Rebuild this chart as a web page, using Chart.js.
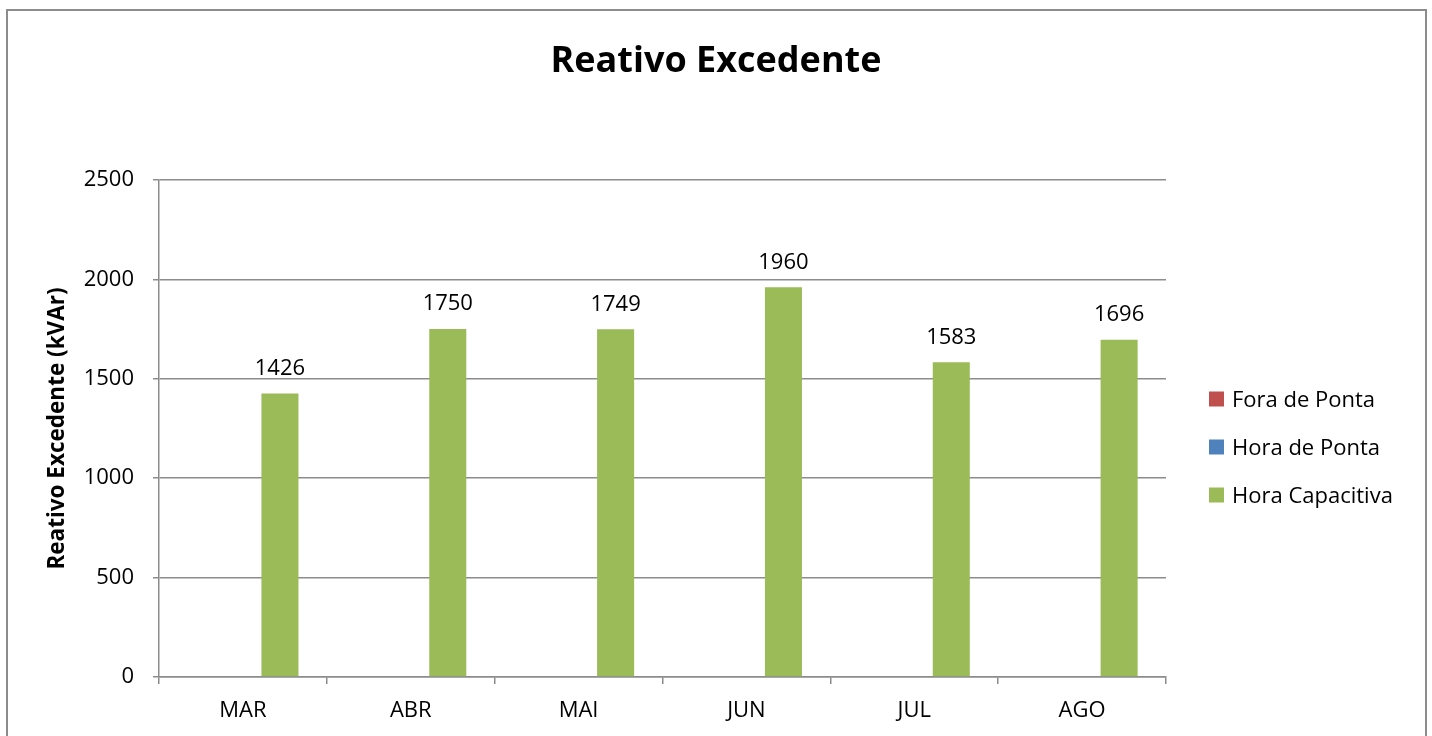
<!DOCTYPE html>
<html>
<head>
<meta charset="utf-8">
<script src="https://cdn.jsdelivr.net/npm/chart.js@4.4.1/dist/chart.umd.min.js"></script>
<style>
  html, body { margin: 0; padding: 0; background: #fff; overflow: hidden; }
  #wrap { width: 1432px; height: 736px; position: relative; }
</style>
</head>
<body>
<div id="wrap"><canvas id="reativoChart"></canvas></div>
<script>
const meses = ["MAR", "ABR", "MAI", "JUN", "JUL", "AGO"];
const foraDePonta = [null, null, null, null, null, null];
const horaDePonta = [null, null, null, null, null, null];
const horaCapacitiva = [1426, 1750, 1749, 1960, 1583, 1696];
const tituloGrafico = "Reativo Excedente";

const FONT = "'Open Sans', Lato, sans-serif";

// moldura cinza e título centralizado na imagem inteira
const framePlugin = {
  id: "frame",
  beforeDraw(chart) {
    const ctx = chart.ctx;
    ctx.save();
    ctx.strokeStyle = "#8c8c8c";
    ctx.lineWidth = 2;
    ctx.strokeRect(7, 10, 1419, 800);
    ctx.font = "bold 36px " + FONT;
    ctx.fillStyle = "#000";
    ctx.textAlign = "center";
    ctx.textBaseline = "middle";
    ctx.fillText(tituloGrafico, 716, 62);
    ctx.restore();
  },
};

// rótulos de valor acima das barras
const valueLabels = {
  id: "valueLabels",
  afterDatasetsDraw(chart) {
    const ctx = chart.ctx;
    ctx.save();
    ctx.font = "22px " + FONT;
    ctx.fillStyle = "#000";
    ctx.textAlign = "center";
    ctx.textBaseline = "middle";
    chart.data.datasets.forEach((ds, i) => {
      const meta = chart.getDatasetMeta(i);
      meta.data.forEach((bar, j) => {
        const v = ds.data[j];
        if (v === null || v === undefined) return;
        ctx.fillText(String(v), bar.x, bar.y - 25);
      });
    });
    ctx.restore();
  },
};

// legenda à direita
const sideLegend = {
  id: "sideLegend",
  afterDraw(chart) {
    const ctx = chart.ctx;
    ctx.save();
    ctx.font = "22px " + FONT;
    ctx.textBaseline = "middle";
    ctx.textAlign = "left";
    chart.data.datasets.forEach((ds, i) => {
      const cy = 399 + i * 48;
      ctx.fillStyle = ds.backgroundColor;
      ctx.fillRect(1209, cy - 7.5, 15, 15);
      ctx.fillStyle = "#000";
      ctx.fillText(ds.label, 1232, cy + 1.5);
    });
    ctx.restore();
  },
};

new Chart(document.getElementById("reativoChart"), {
  type: "bar",
  data: {
    labels: meses,
    datasets: [
      { label: "Fora de Ponta", data: foraDePonta, backgroundColor: "#C0504D" },
      { label: "Hora de Ponta", data: horaDePonta, backgroundColor: "#4F81BD" },
      { label: "Hora Capacitiva", data: horaCapacitiva, backgroundColor: "#9BBB59" },
    ],
  },
  options: {
    responsive: true,
    maintainAspectRatio: false,
    animation: false,
    layout: { padding: { left: 0, right: 266, top: 180, bottom: 0 } },
    datasets: {
      bar: { categoryPercentage: 0.662, barPercentage: 1 },
    },
    scales: {
      x: {
        grid: {
          offset: true,
          drawOnChartArea: false,
          drawTicks: true,
          tickLength: 7,
          color: "#8c8c8c",
          lineWidth: 1.5,
        },
        border: { color: "#8c8c8c", width: 1.5 },
        ticks: { color: "#000", font: { family: FONT, size: 22 }, padding: 14 },
        afterFit(scale) {
          scale.height = 59;
        },
      },
      y: {
        min: 0,
        max: 2500,
        ticks: {
          stepSize: 500,
          color: "#000",
          font: { family: FONT, size: 22 },
          padding: 19,
          callback: (value) => String(value),
        },
        grid: { color: "#8c8c8c", lineWidth: 1.5, tickLength: 6 },
        border: { color: "#8c8c8c", width: 1.5 },
        title: {
          display: true,
          text: "Reativo Excedente (kVAr)",
          color: "#000",
          font: { family: FONT, size: 22.5, weight: "bold" },
          padding: { top: 44, bottom: 0 },
        },
        afterFit(scale) {
          scale.width = 159;
        },
      },
    },
    plugins: {
      legend: { display: false },
      tooltip: { enabled: false },
      title: { display: false },
    },
  },
  plugins: [framePlugin, valueLabels, sideLegend],
});
</script>
</body>
</html>
